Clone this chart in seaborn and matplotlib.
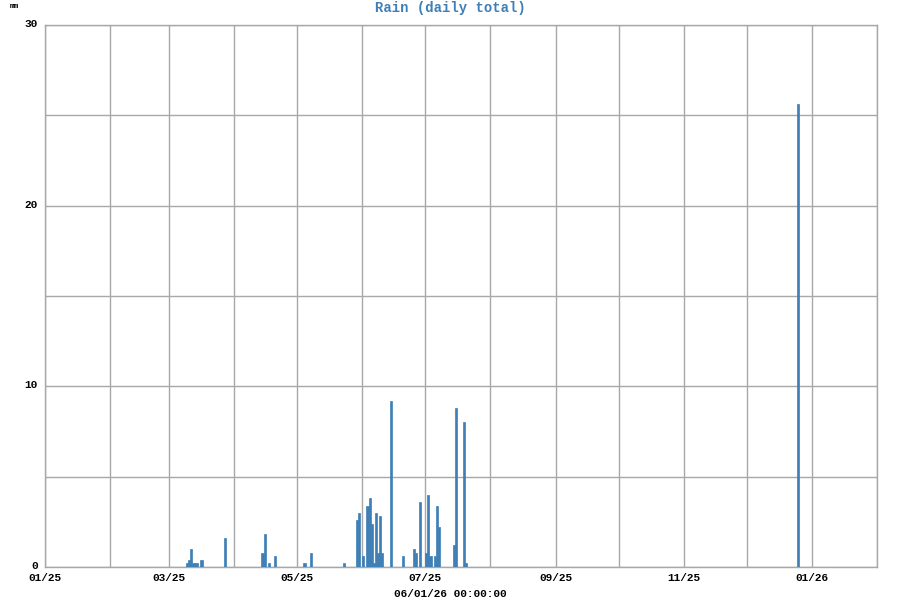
import matplotlib
matplotlib.use("Agg")
import matplotlib.pyplot as plt
import matplotlib.dates as mdates
import matplotlib.transforms as mtransforms
import seaborn as sns
import pandas as pd
import numpy as np

# ---- data (daily rain totals, mm) ----
rain_dates = [
    "2025-03-09", "2025-03-10", "2025-03-11", "2025-03-12", "2025-03-13", "2025-03-14",
    "2025-03-16", "2025-03-27",
    "2025-04-14", "2025-04-15", "2025-04-17", "2025-04-20",
    "2025-05-04", "2025-05-07", "2025-05-23", "2025-05-29", "2025-05-30",
    "2025-06-01", "2025-06-03", "2025-06-04", "2025-06-05", "2025-06-06", "2025-06-07",
    "2025-06-08", "2025-06-09", "2025-06-10", "2025-06-14",
    "2025-06-20", "2025-06-25", "2025-06-26", "2025-06-28",
    "2025-07-01", "2025-07-02", "2025-07-03", "2025-07-05", "2025-07-06", "2025-07-07",
    "2025-07-14", "2025-07-15", "2025-07-19", "2025-07-20",
    "2025-12-25",
]
rain_mm = [
    0.2, 0.4, 1.0, 0.2, 0.2, 0.2,
    0.4, 1.6,
    0.8, 1.8, 0.2, 0.6,
    0.2, 0.8, 0.2, 2.6, 3.0,
    0.6, 3.4, 3.8, 2.4, 0.2, 3.0,
    0.8, 2.8, 0.8, 9.2,
    0.6, 1.0, 0.8, 3.6,
    0.8, 4.0, 0.6, 0.6, 3.4, 2.2,
    1.2, 8.8, 8.0, 0.2,
    25.6,
]
x_start = "2025-01-01"
x_end = "2026-02-01"
y_ticks = [0, 10, 20, 30]
x_tick_labels = ["01/25", "03/25", "05/25", "07/25", "09/25", "11/25", "01/26"]
title = "Rain (daily total)"
unit = "mm"
footer = "06/01/26 00:00:00"

# ---- plot ----
sns.set_theme(style="white")
plt.rcParams["font.family"] = ["Liberation Mono", "DejaVu Sans Mono"]

fig = plt.figure(figsize=(9, 6), dpi=100)
ax = fig.add_axes([45 / 900, 33 / 600, 832 / 900, 542 / 600])

bar_color = "#3f7fb5"
df = pd.DataFrame({"date": pd.to_datetime(rain_dates), "rain": rain_mm})
df["x"] = mdates.date2num(df["date"])
x0 = mdates.date2num(pd.Timestamp(x_start))
x1 = mdates.date2num(pd.Timestamp(x_end))

sns.histplot(data=df, x="x", weights="rain", binwidth=1, binrange=(x0, x1),
             color=bar_color, alpha=1.0, linewidth=0.5, edgecolor=bar_color,
             ax=ax, zorder=3)

ax.set_xlim(x0, x1)
ax.set_ylim(0, 30)

# grid: monthly vertical lines, 5 mm horizontal lines
months = pd.date_range(x_start, x_end, freq="MS")
ax.set_xticks(mdates.date2num(months), minor=True)
major = months[::2]
ax.set_xticks(mdates.date2num(major))
ax.set_xticklabels(x_tick_labels + [""] * (len(major) - len(x_tick_labels)))
ax.set_yticks(np.arange(0, 31, 5), minor=True)
ax.set_yticks(y_ticks)
ax.set_yticklabels([str(v) for v in y_ticks])
ax.grid(True, which="both", color="#a8a8a8", linewidth=1.0, zorder=0)
ax.set_axisbelow(True)

for s in ax.spines.values():
    s.set_color("#a8a8a8")
    s.set_linewidth(1.0)

ax.tick_params(axis="x", which="both", length=0, labelsize=8, pad=4)
ax.tick_params(axis="y", which="both", length=0, labelsize=8, pad=5)
for lab in ax.get_xticklabels() + ax.get_yticklabels():
    lab.set_fontweight("bold")
    lab.set_color("#000000")
# lift y labels by 2 px so the "0" clears the date labels
lift = mtransforms.ScaledTranslation(0, 2 / 100, fig.dpi_scale_trans)
for lab in ax.get_yticklabels():
    lab.set_transform(lab.get_transform() + lift)
ax.set_xlabel("")
ax.set_ylabel("")

fig.text(0.5, 1 - 8 / 600, title, ha="center", va="center", fontsize=10,
         fontweight="bold", color=bar_color)
fig.text(10 / 900, 1 - 6 / 600, unit, ha="left", va="center", fontsize=5.5,
         fontweight="bold", color="#000000")
fig.text(0.5, 1 - 594 / 600, footer, ha="center", va="center", fontsize=8,
         fontweight="bold", color="#000000")

fig.savefig("out.png", dpi=100, facecolor="white")
